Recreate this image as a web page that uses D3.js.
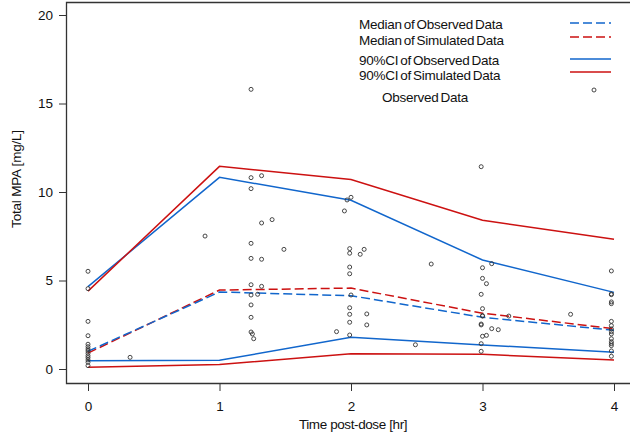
<!DOCTYPE html>
<html><head><meta charset="utf-8">
<script src="https://cdn.jsdelivr.net/npm/d3@7"></script>
<style>
body{margin:0;background:#fff;}
text{font-family:"Liberation Sans",Arial,sans-serif;fill:#111;}
</style></head>
<body><svg id="chart" width="630" height="437"></svg>
<script>
// ---- data ----
const times = [0, 1, 2, 3, 4];
const obsMedian = [1.0, 4.35, 4.14, 2.92, 2.19];
const simMedian = [0.9, 4.46, 4.57, 3.15, 2.28];
const obsCIUpper = [4.65, 10.83, 9.53, 6.16, 4.33];
const obsCILower = [0.47, 0.49, 1.79, 1.36, 0.94];
const simCIUpper = [4.4, 11.45, 10.7, 8.4, 7.33];
const simCILower = [0.1, 0.25, 0.86, 0.83, 0.51];
const obsTime = [
  0,0,0,0,0,0,0,0,0,0,0,0,0,0,0.32,
  1.24,1.24,1.32,1.24,1.32,1.40,0.89,1.24,1.49,1.24,1.32,1.24,1.32,1.24,1.29,1.24,1.24,1.24,1.25,1.26,
  1.97,2.0,1.95,1.99,1.99,2.07,2.10,1.99,1.99,2.61,2.0,1.99,1.99,2.12,1.99,2.12,1.89,1.99,2.49,
  2.99,3.0,3.07,3.0,3.03,2.99,3.0,3.0,3.0,3.20,3.67,2.99,2.99,3.07,3.12,3.0,3.03,2.99,2.99,
  3.98,3.98,3.98,3.98,3.98,3.98,3.98,3.98,3.98,3.98,3.98,3.98,3.98,3.98,3.98,3.98
];
const obsConc = [
  5.52,4.54,2.69,1.88,1.40,1.26,1.13,1.02,0.89,0.75,0.64,0.51,0.38,0.19,0.66,
  15.8,10.81,10.92,10.19,8.25,8.44,7.51,7.10,6.76,6.25,6.20,4.76,4.67,4.18,4.22,3.62,2.92,2.09,1.98,1.71,
  9.55,9.7,8.93,6.80,6.54,6.48,6.76,5.76,5.38,5.93,4.18,3.46,3.09,3.11,2.64,2.49,2.11,1.92,1.37,
  11.43,5.72,5.95,5.12,4.82,4.22,3.41,3.01,2.99,2.99,3.09,2.54,2.49,2.28,2.22,1.85,1.9,1.43,1.0,
  5.54,4.24,4.20,3.79,3.69,2.69,2.45,2.26,2.11,1.98,1.71,1.54,1.43,1.32,1.02,0.72
];
const xTicks = [0, 1, 2, 3, 4];
const yTicks = [0, 5, 10, 15, 20];
const legendLabels = ["Median of Observed Data","Median of Simulated Data","90%CI of Observed Data","90%CI of Simulated Data","Observed Data"];

const blue = "#1166cc", red = "#cc1111";
const svg = d3.select("#chart");
const x = d3.scaleLinear().domain([0, 4]).range([88, 614]);
const y = d3.scaleLinear().domain([0, 20]).range([369, 15]);

// frame
svg.append("path").attr("d", "M632,2.5H66.5V383.5H632")
  .attr("fill", "none").attr("stroke", "#333").attr("stroke-width", 1.3);

// axes
const yAx = svg.append("g").attr("transform", "translate(66,0)")
  .call(d3.axisLeft(y).tickValues(yTicks).tickSize(7).tickPadding(6));
yAx.select(".domain").remove();
yAx.selectAll("text").attr("font-size", 13.5).style("font-family", "Liberation Sans, Arial");
yAx.selectAll("line").attr("stroke", "#333");

const xAx = svg.append("g").attr("transform", "translate(0,383)")
  .call(d3.axisBottom(x).tickValues(xTicks).tickSize(8).tickPadding(10).tickFormat(d3.format("d")));
xAx.select(".domain").remove();
xAx.selectAll("text").attr("font-size", 13.5).style("font-family", "Liberation Sans, Arial");
xAx.selectAll("line").attr("stroke", "#333");

svg.append("text").attr("x", 353).attr("y", 429).attr("text-anchor", "middle")
  .attr("font-size", 13.5).attr("letter-spacing", -0.4).text("Time post-dose [hr]");
svg.append("text").attr("transform", "translate(21,179) rotate(-90)").attr("text-anchor", "middle")
  .attr("font-size", 13.5).attr("letter-spacing", -0.2).text("Total MPA  [mg/L]");

// lines
const line = d3.line().x((d, i) => x(times[i])).y(d => y(d));
function drawLine(vals, color, dashed) {
  svg.append("path").datum(vals).attr("d", line).attr("fill", "none")
    .attr("stroke", color).attr("stroke-width", 1.5)
    .attr("stroke-dasharray", dashed ? "9,4" : null);
}
drawLine(obsCIUpper, blue, false);
drawLine(obsCILower, blue, false);
drawLine(simCIUpper, red, false);
drawLine(simCILower, red, false);
drawLine(simMedian, red, true);
drawLine(obsMedian, blue, true);

// points
svg.append("g").selectAll("circle").data(obsConc).join("circle")
  .attr("cx", (d, i) => x(obsTime[i])).attr("cy", d => y(d)).attr("r", 2)
  .attr("fill", "none").attr("stroke", "#333").attr("stroke-width", 0.9);

// legend
const legY = [24, 40, 60, 75, 97];
const legX = [359, 359, 359, 359, 382];
const lg = svg.append("g");
legendLabels.forEach((t, i) => {
  lg.append("text").attr("x", legX[i]).attr("y", legY[i] + 5).attr("font-size", 13.5)
    .attr("letter-spacing", -0.25).attr("word-spacing", -1.5).text(t);
});
const symY = [23, 37, 59, 72];
const symC = [blue, red, blue, red];
const symD = [true, true, false, false];
symY.forEach((yy, i) => {
  lg.append("line").attr("x1", 570).attr("x2", 611).attr("y1", yy).attr("y2", yy)
    .attr("stroke", symC[i]).attr("stroke-width", 1.5)
    .attr("stroke-dasharray", symD[i] ? "9,4" : null);
});
lg.append("circle").attr("cx", 594).attr("cy", 90).attr("r", 2)
  .attr("fill", "none").attr("stroke", "#333").attr("stroke-width", 0.9);
</script></body></html>
